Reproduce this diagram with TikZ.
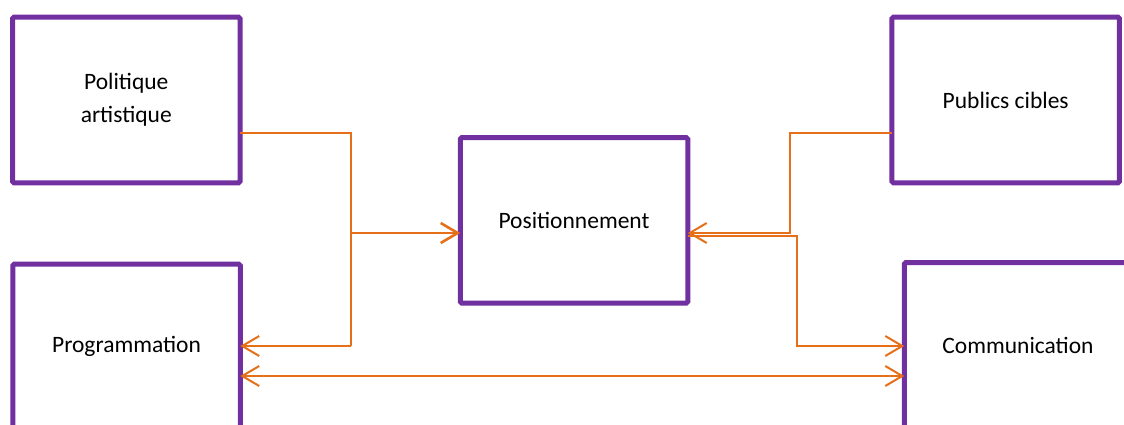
\documentclass[tikz,border=0pt]{standalone}
\usepackage{fontspec}
\setmainfont{Carlito}
\usetikzlibrary{arrows.meta}
\definecolor{boxpurple}{RGB}{112,48,160}
\definecolor{lineorange}{RGB}{230,112,25}
\tikzset{
  box/.style={draw=boxpurple, line width=5pt, rounded corners=1.5pt,
    minimum width=227.5pt, minimum height=165.5pt, inner sep=0pt, outer sep=0pt,
    align=center, font=\fontsize{23.5}{32.6}\selectfont},
  conn/.style={draw=lineorange, line width=2pt},
  tip/.tip={Straight Barb[length=17pt,width=20pt]}
}
\begin{document}
\begin{tikzpicture}[x=1pt,y=-1pt]
\clip (0,0) rectangle (1124,425);
\fill[white] (0,0) rectangle (1124,425);
\node[box] (pol) at (126.25,100) {Politique\\artistique};
\node[box] (prog) at (126.5,346.8) {Programmation};
\node[box] (pos) at (574,220.3) {Positionnement};
\node[box] (pub) at (1005.7,100) {Publics cibles};
\node[box] (com) at (1018,345.3) {Communication};
% left junctions
\coordinate (jt) at (351,133);
\coordinate (jm) at (351,233);
\coordinate (jb) at (351,346);
\draw[conn] (pol.east |- jt) -- (jt) -- (jb);
\draw[conn,-tip] (jb) -- (prog.east |- jb);
\draw[conn,line width=2.6pt,-tip] (jm) -- (pos.west |- jm);
% right junctions
\coordinate (jrt) at (790,133);
\coordinate (jr) at (790,233);
\coordinate (jr2) at (797,236);
\coordinate (jr3) at (797,346);
\draw[conn,-tip] (pub.west |- jrt) -- (jrt) -- (jr) -- (pos.east |- jr);
\draw[conn,-tip] (pos.east |- jr2) -- (jr2) -- (jr3) -- (com.west |- jr3);
% double arrow
\coordinate (yd) at (0,376);
\draw[conn,tip-tip] (prog.east |- yd) -- (com.west |- yd);
\end{tikzpicture}
\end{document}
